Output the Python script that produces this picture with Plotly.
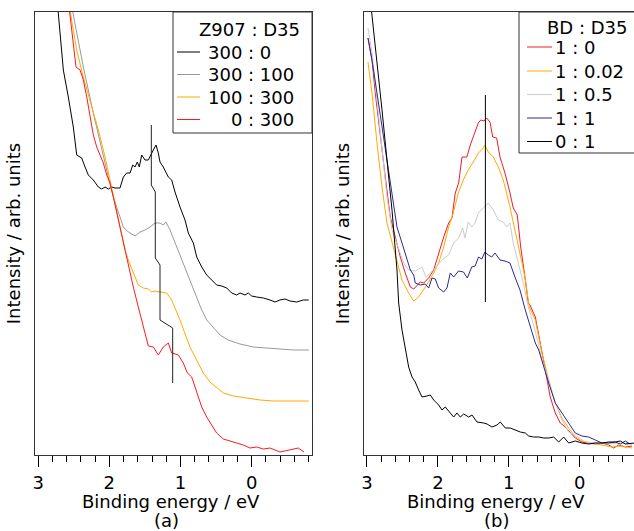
import plotly.graph_objects as go

# ---------------- Panel (a): Z907 : D35 ----------------
a_black_E = [2.727, 2.716, 2.646, 2.576, 2.506, 2.458, 2.388, 2.341, 2.295, 2.225, 2.154, 2.107, 2.060, 2.014,
             1.966, 1.920, 1.850, 1.803, 1.756, 1.709, 1.671, 1.639, 1.607, 1.579, 1.545, 1.499, 1.452, 1.382,
             1.344, 1.312, 1.288, 1.242, 1.171, 1.124, 1.077, 1.007, 0.937, 0.890, 0.820, 0.772, 0.702, 0.632,
             0.562, 0.492, 0.421, 0.351, 0.281, 0.211, 0.164, 0.094, 0.048, 0.000, -0.070, -0.163, -0.257,
             -0.327, -0.397, -0.468, -0.538, -0.632, -0.725, -0.801]
a_black_I = [450, 440, 385, 358, 328, 300, 297, 288, 280, 275, 268, 266, 268, 266,
             268, 267, 267, 278, 282, 282, 290, 288, 293, 288, 300, 295, 295, 305,
             310, 302, 293, 288, 278, 275, 263, 248, 235, 222, 212, 198, 188, 180,
             175, 170, 169, 167, 162, 160, 162, 160, 162, 159, 158, 157, 155,
             153, 155, 156, 154, 153, 155, 155]

a_gray_E = [2.532, 2.506, 2.365, 2.225, 2.107, 2.014, 1.944, 1.874, 1.803, 1.733, 1.639, 1.569, 1.499, 1.428,
            1.358, 1.288, 1.242, 1.204, 1.147, 1.053, 0.961, 0.867, 0.772, 0.702, 0.632, 0.539, 0.445, 0.329,
            0.164, -0.022, -0.211, -0.397, -0.584, -0.801]
a_gray_I = [450, 440, 388, 342, 305, 278, 258, 242, 228, 223, 219, 223, 225, 228,
            232, 232, 230, 233, 225, 208, 192, 175, 158, 145, 135, 127, 120, 115,
            111, 108, 107, 106, 105, 105]

a_orange_E = [2.566, 2.542, 2.458, 2.365, 2.271, 2.154, 2.060, 1.990, 1.920, 1.850, 1.780, 1.733, 1.663, 1.593,
              1.522, 1.452, 1.404, 1.358, 1.288, 1.194, 1.124, 1.007, 0.867, 0.772, 0.680, 0.586, 0.492, 0.399,
              0.258, 0.070, -0.117, -0.303, -0.538, -0.801]
a_orange_I = [450, 440, 405, 378, 355, 325, 298, 275, 252, 228, 205, 195, 182, 170,
              167, 166, 163, 164, 163, 162, 155, 135, 108, 95, 82, 73, 67, 62,
              59, 57, 55, 54, 54, 54]

a_red_E = [2.569, 2.552, 2.506, 2.468, 2.411, 2.365, 2.317, 2.271, 2.225, 2.177, 2.140, 2.084, 2.037, 1.990,
           1.944, 1.874, 1.803, 1.733, 1.663, 1.593, 1.522, 1.452, 1.382, 1.312, 1.242, 1.171, 1.124, 1.031,
           0.961, 0.904, 0.843, 0.772, 0.702, 0.632, 0.562, 0.492, 0.399, 0.258, 0.118, 0.024, -0.070, -0.163,
           -0.257, -0.397, -0.538, -0.654, -0.735]
a_red_I = [450, 440, 412, 388, 385, 375, 358, 338, 320, 308, 302, 292, 280, 272,
           258, 235, 212, 188, 168, 148, 128, 109, 108, 100, 108, 112, 102, 100,
           92, 82, 78, 62, 48, 38, 30, 22, 16, 13, 10, 7, 8, 6,
           7, 3, 5, 7, 3]

a_peak_E = [1.41, 1.41, 1.354, 1.354, 1.288, 1.288, 1.11, 1.11]
a_peak_I = [330, 270, 263, 197, 190, 135, 127, 72]

# ---------------- Panel (b): BD : D35 ----------------
b_red_E = [2.986, 2.929, 2.883, 2.812, 2.742, 2.671, 2.601, 2.530, 2.460, 2.389, 2.341, 2.295, 2.248, 2.200,
           2.130, 2.059, 1.989, 1.918, 1.848, 1.801, 1.755, 1.707, 1.660, 1.590, 1.543, 1.495, 1.430, 1.396,
           1.350, 1.312, 1.265, 1.227, 1.171, 1.124, 1.054, 0.983, 0.937, 0.880, 0.832, 0.772, 0.725, 0.701,
           0.626, 0.556, 0.485, 0.415, 0.344, 0.274, 0.203, 0.133, 0.062, -0.032, -0.127, -0.220, -0.315,
           -0.409, -0.480, -0.550, -0.643, -0.738]
b_red_I = [417, 395, 362, 318, 278, 238, 218, 198, 182, 168, 166, 170, 173, 172,
           177, 185, 202, 218, 232, 237, 262, 272, 298, 298, 310, 320, 332, 335,
           334, 337, 333, 318, 317, 298, 282, 262, 247, 240, 208, 178, 152, 150,
           138, 112, 85, 58, 42, 32, 28, 22, 17, 13, 12, 11, 12,
           10, 7, 10, 8, 9]

b_orange_E = [2.986, 2.929, 2.859, 2.788, 2.718, 2.647, 2.577, 2.506, 2.412, 2.341, 2.271, 2.200, 2.130, 2.059,
              1.989, 1.918, 1.848, 1.783, 1.712, 1.642, 1.571, 1.501, 1.430, 1.382, 1.336, 1.289, 1.219, 1.148,
              1.078, 0.983, 0.913, 0.842, 0.772, 0.711, 0.626, 0.532, 0.437, 0.344, 0.250, 0.155, 0.062, -0.032,
              -0.173, -0.315, -0.456, -0.597, -0.738]
b_orange_I = [393, 362, 312, 268, 232, 212, 192, 175, 162, 154, 158, 165, 173, 182,
              192, 208, 228, 242, 262, 275, 285, 293, 302, 305, 310, 303, 298, 288,
              275, 248, 225, 202, 178, 148, 135, 102, 75, 52, 37, 27, 18, 14,
              12, 10, 8, 9, 7]

b_lgray_E = [2.986, 2.929, 2.859, 2.788, 2.718, 2.647, 2.553, 2.482, 2.412, 2.319, 2.224, 2.168, 2.107, 2.037,
             1.942, 1.848, 1.777, 1.707, 1.650, 1.618, 1.571, 1.523, 1.477, 1.430, 1.360, 1.289, 1.219, 1.148,
             1.078, 1.030, 0.983, 0.937, 0.866, 0.795, 0.725, 0.630, 0.532, 0.437, 0.344, 0.250, 0.155, 0.062,
             -0.079, -0.220, -0.409, -0.597, -0.738]
b_lgray_I = [427, 402, 355, 305, 258, 225, 205, 192, 185, 184, 188, 178, 182, 187,
             195, 200, 212, 217, 227, 217, 233, 228, 232, 242, 247, 252, 245, 235,
             233, 228, 232, 212, 192, 172, 148, 125, 95, 75, 52, 35, 23, 20,
             13, 12, 11, 12, 11]

b_blue_E = [2.986, 2.929, 2.859, 2.788, 2.718, 2.647, 2.577, 2.506, 2.436, 2.389, 2.341, 2.319, 2.248, 2.178,
            2.130, 2.083, 2.037, 1.989, 1.918, 1.872, 1.825, 1.777, 1.709, 1.639, 1.585, 1.523, 1.474, 1.427,
            1.381, 1.336, 1.289, 1.241, 1.195, 1.124, 1.054, 0.983, 0.913, 0.842, 0.767, 0.697, 0.626, 0.578,
            0.508, 0.437, 0.344, 0.250, 0.155, 0.062, -0.032, -0.127, -0.220, -0.315, -0.409, -0.502, -0.573,
            -0.643, -0.714]
b_blue_I = [417, 395, 362, 328, 295, 262, 228, 212, 195, 185, 180, 172, 170, 171,
            167, 177, 176, 167, 163, 167, 182, 178, 184, 183, 177, 188, 189, 198,
            196, 203, 200, 198, 202, 195, 194, 192, 178, 165, 145, 128, 112, 105,
            88, 72, 52, 42, 32, 22, 19, 18, 15, 12, 12, 13, 11,
            14, 11]

b_black_E = [2.945, 2.929, 2.859, 2.788, 2.718, 2.647, 2.577, 2.553, 2.506, 2.460, 2.412, 2.365, 2.319, 2.271,
             2.224, 2.154, 2.107, 2.059, 1.989, 1.942, 1.896, 1.825, 1.777, 1.731, 1.684, 1.636, 1.566, 1.519,
             1.449, 1.354, 1.307, 1.237, 1.166, 1.120, 1.049, 0.979, 0.908, 0.838, 0.767, 0.719, 0.649, 0.578,
             0.508, 0.437, 0.367, 0.296, 0.226, 0.155, 0.062, -0.032, -0.127, -0.220, -0.315, -0.409, -0.502,
             -0.573, -0.643, -0.738, -0.780]
b_black_I = [450, 440, 395, 345, 295, 245, 185, 152, 125, 105, 88, 78, 73, 65,
             58, 59, 60, 55, 50, 45, 48, 42, 38, 42, 38, 41, 38, 40,
             33, 32, 31, 28, 30, 33, 27, 27, 25, 23, 22, 19, 18, 18,
             17, 17, 18, 13, 18, 12, 14, 12, 11, 12, 12, 13, 13,
             14, 11, 12, 12]

b_peak_E = [1.33, 1.33]
b_peak_I = [153, 360]

legend_a_title = "Z907 : D35"
legend_a_names = ["300 : 0", "300 : 100", "100 : 300", "\u2007\u20070 : 300"]
legend_a_colors = ["#000000", "#999999", "#ffaa00", "#ff1a1a"]

legend_b_title = "BD : D35"
legend_b_names = ["1 : 0", "1 : 0.02", "1 : 0.5", "1 : 1", "0 : 1"]
legend_b_colors = ["#ee1c25", "#ffaa00", "#cccccc", "#2a2a9a", "#000000"]

x_title = "Binding energy / eV"
y_title = "Intensity / arb. units"
panel_labels = ["(a)", "(b)"]

FONT = "DejaVu Sans"
FS = 18

W, H = 634, 531


def px(xp):
    return xp / W


def py(yp):
    return 1 - yp / H


fig = go.Figure()

a_series = [(a_black_E, a_black_I), (a_gray_E, a_gray_I), (a_orange_E, a_orange_I), (a_red_E, a_red_I)]
for (e, i), name, c in zip(a_series, legend_a_names, legend_a_colors):
    fig.add_trace(go.Scatter(x=e, y=i, mode="lines", name=name, line=dict(color=c, width=1),
                             xaxis="x", yaxis="y", showlegend=False))
fig.add_trace(go.Scatter(x=a_peak_E, y=a_peak_I, mode="lines", line=dict(color="#222222", width=1),
                         xaxis="x", yaxis="y", showlegend=False))

b_series = [(b_red_E, b_red_I), (b_orange_E, b_orange_I), (b_lgray_E, b_lgray_I), (b_blue_E, b_blue_I),
            (b_black_E, b_black_I)]
for (e, i), name, c in zip(b_series, legend_b_names, legend_b_colors):
    fig.add_trace(go.Scatter(x=e, y=i, mode="lines", name=name, line=dict(color=c, width=1),
                             xaxis="x2", yaxis="y2", showlegend=False))
fig.add_trace(go.Scatter(x=b_peak_E, y=b_peak_I, mode="lines", line=dict(color="#000000", width=1),
                         xaxis="x2", yaxis="y2", showlegend=False))

ytop = py(12)
ybot = py(455)

xcommon = dict(ticks="outside", ticklen=11, tickwidth=1, tickcolor="#000", dtick=1, tick0=0,
               showgrid=False, zeroline=False, showline=True, linecolor="#333", linewidth=1,
               tickfont=dict(family=FONT, size=FS, color="#000"),
               minor=dict(dtick=0.2, tick0=0, ticks="outside", ticklen=6, tickcolor="#000", showgrid=False))
ycommon = dict(showticklabels=False, ticks="", showgrid=False, zeroline=False, showline=True,
               linecolor="#333", linewidth=1, range=[0, 443],
               title=dict(text=y_title, font=dict(family=FONT, size=FS, color="#000"), standoff=8))

shapes = []
annotations = []


def add_legend(x0, x1, y0, y1, title, title_x, title_y, names, colors, rows_y, line_x0, line_x1, text_x):
    shapes.append(dict(type="rect", xref="paper", yref="paper", x0=px(x0), x1=px(x1), y0=py(y1), y1=py(y0),
                       line=dict(color="#333", width=1), fillcolor="white", layer="above"))
    annotations.append(dict(text=title, xref="paper", yref="paper", x=px(title_x), y=py(title_y),
                            xanchor="left", yanchor="middle", showarrow=False,
                            font=dict(family=FONT, size=FS, color="#000")))
    for name, c, ry in zip(names, colors, rows_y):
        shapes.append(dict(type="line", xref="paper", yref="paper", x0=px(line_x0), x1=px(line_x1),
                           y0=py(ry), y1=py(ry), line=dict(color=c, width=1), layer="above"))
        annotations.append(dict(text=name, xref="paper", yref="paper", x=px(text_x), y=py(ry),
                                xanchor="left", yanchor="middle", showarrow=False,
                                font=dict(family=FONT, size=FS, color="#000")))


add_legend(173, 312, 12, 133, legend_a_title, 197, 29, legend_a_names, legend_a_colors,
           [52, 74.5, 97, 119.5], 177, 200, 206)
add_legend(519, 645, 12, 153, legend_b_title, 545, 28, legend_b_names, legend_b_colors,
           [47, 71, 94.5, 118, 141.5], 527, 552, 553)

for xc_t, xc_l, lab in [(171, 166, panel_labels[0]), (496, 496, panel_labels[1])]:
    annotations.append(dict(text=x_title, xref="paper", yref="paper", x=px(xc_t), y=py(501),
                            xanchor="center", yanchor="middle", showarrow=False, borderpad=0,
                            font=dict(family=FONT, size=FS, color="#000")))
    annotations.append(dict(text=lab, xref="paper", yref="paper", x=px(xc_l), y=py(520),
                            xanchor="center", yanchor="middle", showarrow=False, borderpad=0,
                            font=dict(family=FONT, size=FS, color="#000")))

fig.update_layout(
    width=W, height=H,
    margin=dict(l=0, r=0, t=0, b=0, autoexpand=False),
    paper_bgcolor="white", plot_bgcolor="white",
    font=dict(family=FONT, size=FS, color="#000"),
    showlegend=False,
    xaxis=dict(xcommon, domain=[px(35), px(312)], range=[3.044, -0.847], mirror=True, anchor="y"),
    yaxis=dict(ycommon, domain=[ybot, ytop], mirror=True, anchor="x"),
    xaxis2=dict(xcommon, domain=[px(364), 1.0], range=[3.042, -0.766], mirror=True, anchor="y2"),
    yaxis2=dict(ycommon, domain=[ybot, ytop], mirror=False, anchor="x2"),
    shapes=shapes,
    annotations=annotations,
)

fig.write_html("out.html")
